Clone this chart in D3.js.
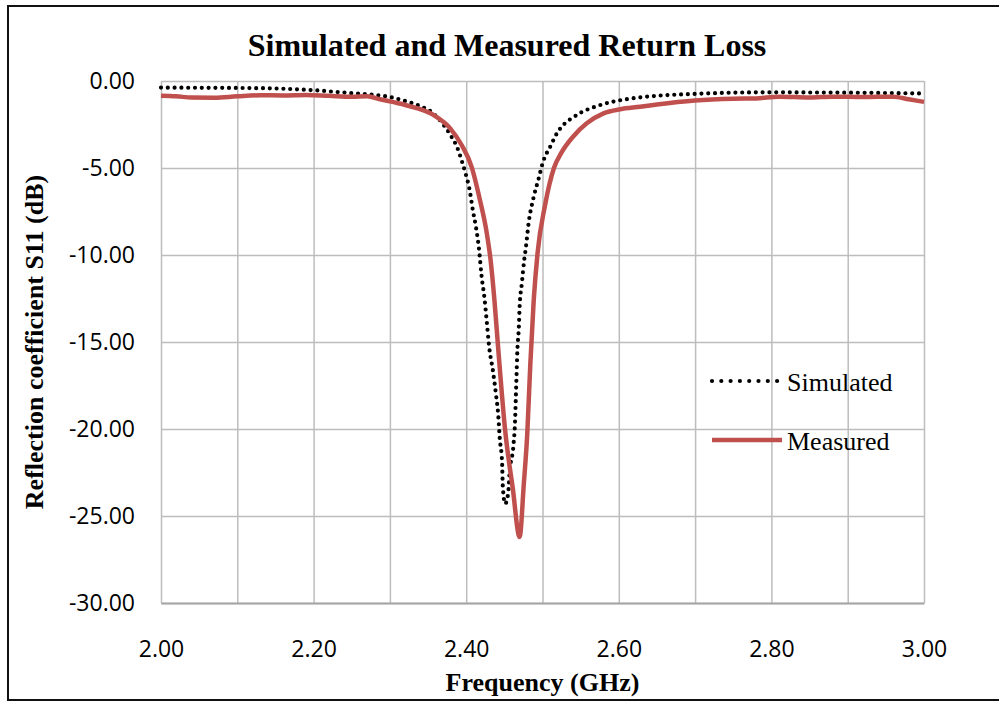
<!DOCTYPE html>
<html>
<head>
<meta charset="utf-8">
<script src="https://cdn.jsdelivr.net/npm/d3@7"></script>
<style>
  body { margin: 0; background: #fff; }
  .tick text { font-family: "Open Sans", sans-serif; font-size: 23px; fill: #000; }
  .grid line { stroke: #bdbdbd; stroke-width: 1.5; }
  .grid .domain { display: none; }
</style>
</head>
<body>
<div id="chart"></div>
<script>

// Simulated S11 (GHz, dB)
var simFreq = [2.00, 2.05, 2.10, 2.15, 2.20, 2.25, 2.28, 2.30, 2.32, 2.34, 2.355, 2.37, 2.38, 2.388, 2.395,
    2.400, 2.404, 2.409, 2.413, 2.417, 2.420, 2.424, 2.427, 2.430, 2.435, 2.439, 2.442, 2.444, 2.447, 2.448,
    2.451, 2.455, 2.457, 2.462, 2.464, 2.465, 2.466, 2.467, 2.469, 2.470, 2.473, 2.476, 2.478, 2.482, 2.488,
    2.495, 2.500, 2.511, 2.519, 2.529, 2.540, 2.551, 2.571, 2.591, 2.610, 2.628, 2.65, 2.70, 2.75, 2.80,
    2.85, 2.90, 2.95, 3.00];
var simS11 = [-0.38, -0.39, -0.40, -0.43, -0.53, -0.70, -0.80, -0.92, -1.15, -1.45, -1.80, -2.50, -3.15, -3.80, -4.70,
    -5.45, -6.15, -7.50, -8.45, -9.75, -11.15, -12.50, -13.85, -15.25, -16.65, -18.00, -19.20, -20.55, -21.90, -23.30,
    -24.30, -23.70, -22.45, -20.90, -19.60, -18.25, -16.90, -15.55, -14.15, -13.00, -11.60, -10.30, -9.65, -8.10, -6.75,
    -5.60, -4.75, -3.70, -3.00, -2.45, -2.10, -1.80, -1.45, -1.20, -1.05, -0.94, -0.85, -0.74, -0.67, -0.65,
    -0.66, -0.67, -0.69, -0.72];

// Measured S11 (GHz, dB)
var measFreq = [2.00, 2.02, 2.04, 2.07, 2.10, 2.13, 2.16, 2.19, 2.22, 2.25, 2.27, 2.287, 2.32, 2.357, 2.379,
    2.394, 2.407, 2.418, 2.427, 2.432, 2.437, 2.442, 2.451, 2.461, 2.470, 2.4756, 2.480, 2.484, 2.4885, 2.4935,
    2.5035, 2.515, 2.525, 2.540, 2.558, 2.580, 2.602, 2.628, 2.65, 2.70, 2.75, 2.78, 2.81, 2.85, 2.88, 2.92,
    2.96, 2.98, 3.00];
var measS11 = [-0.85, -0.88, -0.95, -0.96, -0.88, -0.82, -0.83, -0.80, -0.85, -0.90, -0.88, -1.05, -1.38, -1.95, -2.72,
    -3.68, -4.92, -6.84, -8.75, -10.30, -12.60, -15.40, -20.06, -23.40, -26.20, -23.10, -20.30, -16.30, -12.60, -9.90,
    -7.10, -5.00, -4.10, -3.20, -2.43, -1.86, -1.62, -1.48, -1.35, -1.12, -1.02, -1.00, -0.90, -0.95, -0.90, -0.92,
    -0.90, -1.05, -1.20];

var xTicks = [2.0, 2.2, 2.4, 2.6, 2.8, 3.0];
var xGrid = [2.0, 2.1, 2.2, 2.3, 2.4, 2.5, 2.6, 2.7, 2.8, 2.9, 3.0];
var yTicks = [0, -5, -10, -15, -20, -25, -30];

var seriesNames = ["Simulated", "Measured"];


// --> CREATE SVG DRAWING AREA
var width = 999,
    height = 702;

var svg = d3.select("#chart").append("svg")
    .attr("width", width)
    .attr("height", height);

// Outer frame
svg.append("rect")
    .attr("x", 8)
    .attr("y", 6)
    .attr("width", 1000)
    .attr("height", 694)
    .attr("fill", "none")
    .attr("stroke", "#111")
    .attr("stroke-width", 2);

var plot = { left: 161, right: 924, top: 81, bottom: 603 };

var x = d3.scaleLinear()
    .domain([2, 3])
    .range([plot.left, plot.right]);

var y = d3.scaleLinear()
    .domain([-30, 0])
    .range([plot.bottom, plot.top]);

// plain hyphen for negatives, like the original
var fmt = d3.formatLocale({ decimal: ".", thousands: ",", grouping: [3], currency: ["$", ""], minus: "-" }).format(".2f");


// Grid lines
svg.append("g")
    .attr("class", "grid")
    .attr("transform", "translate(0," + plot.bottom + ")")
    .call(d3.axisBottom(x).tickValues(xGrid).tickSize(-(plot.bottom - plot.top)).tickFormat(""));

svg.append("g")
    .attr("class", "grid")
    .attr("transform", "translate(" + plot.left + ",0)")
    .call(d3.axisLeft(y).tickValues(yTicks).tickSize(-(plot.right - plot.left)).tickFormat(""));

// Axes (labels only)
var xAxis = svg.append("g")
    .attr("transform", "translate(0," + plot.bottom + ")")
    .call(d3.axisBottom(x).tickValues(xTicks).tickSize(0).tickPadding(38).tickFormat(fmt));
xAxis.select(".domain").attr("stroke", "#a6a6a6").attr("stroke-width", 2);
xAxis.selectAll("text").attr("dy", "0.71em");

var yAxis = svg.append("g")
    .attr("transform", "translate(" + plot.left + ",0)")
    .call(d3.axisLeft(y).tickValues(yTicks).tickSize(0).tickPadding(26).tickFormat(fmt));
yAxis.select(".domain").remove();


// Lines
var line = d3.line()
    .x(function(d) { return x(d[0]); })
    .y(function(d) { return y(d[1]); })
    .curve(d3.curveMonotoneX);

var simData = simFreq.map(function(f, i) { return [f, simS11[i]]; });
var measData = measFreq.map(function(f, i) { return [f, measS11[i]]; });

svg.append("path")
    .datum(simData)
    .attr("d", line)
    .attr("fill", "none")
    .attr("stroke", "#000")
    .attr("stroke-width", 4.2)
    .attr("stroke-linecap", "round")
    .attr("stroke-dasharray", "0 6.8");

svg.append("path")
    .datum(measData)
    .attr("d", line)
    .attr("fill", "none")
    .attr("stroke", "#c0504d")
    .attr("stroke-width", 4.5)
    .attr("stroke-linejoin", "round");


// Legend
var legend = svg.append("g").attr("font-family", "'Liberation Serif', 'Times New Roman', serif");

legend.append("line")
    .attr("x1", 712).attr("x2", 778)
    .attr("y1", 381).attr("y2", 381)
    .attr("stroke", "#000")
    .attr("stroke-width", 4.2)
    .attr("stroke-linecap", "round")
    .attr("stroke-dasharray", "0 9.3");
legend.append("text")
    .attr("x", 787).attr("y", 391)
    .attr("font-size", 26)
    .text(seriesNames[0]);

legend.append("line")
    .attr("x1", 712).attr("x2", 782)
    .attr("y1", 440).attr("y2", 440)
    .attr("stroke", "#c0504d")
    .attr("stroke-width", 4.5);
legend.append("text")
    .attr("x", 787).attr("y", 450)
    .attr("font-size", 26)
    .text(seriesNames[1]);


// Titles
svg.append("text")
    .attr("x", 507).attr("y", 56)
    .attr("text-anchor", "middle")
    .attr("font-family", "'Liberation Serif', 'Times New Roman', serif")
    .attr("font-weight", "bold")
    .attr("font-size", 32)
    .text("Simulated and Measured Return Loss");

svg.append("text")
    .attr("x", (plot.left + plot.right) / 2).attr("y", 691)
    .attr("text-anchor", "middle")
    .attr("font-family", "'Liberation Serif', 'Times New Roman', serif")
    .attr("font-weight", "bold")
    .attr("font-size", 26)
    .text("Frequency (GHz)");

svg.append("text")
    .attr("transform", "translate(43," + ((plot.top + plot.bottom) / 2) + ") rotate(-90)")
    .attr("text-anchor", "middle")
    .attr("font-family", "'Liberation Serif', 'Times New Roman', serif")
    .attr("font-weight", "bold")
    .attr("font-size", 26)
    .text("Reflection coefficient S11 (dB)");

</script>
</body>
</html>
